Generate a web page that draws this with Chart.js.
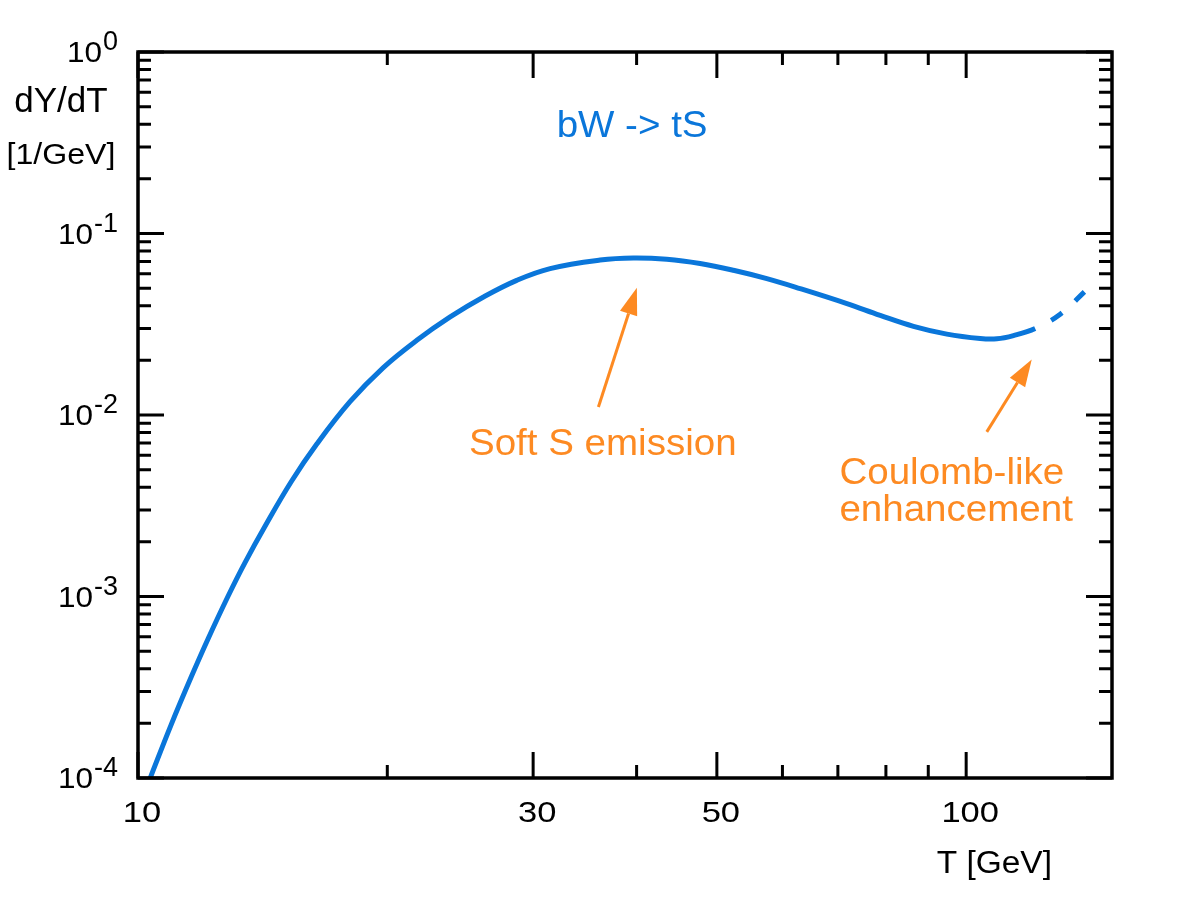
<!DOCTYPE html>
<html>
<head>
<meta charset="utf-8">
<script src="https://cdn.jsdelivr.net/npm/chart.js@4"></script>
<style>
  html, body { margin: 0; padding: 0; background: #ffffff; }
  #wrap { width: 1200px; height: 900px; }
</style>
</head>
<body>
<div id="wrap"><canvas id="SpectrumChart" width="1200" height="900"></canvas></div>
<script>
const SpectrumCanvas = document.getElementById("SpectrumChart");

// curve: T [GeV] and dY/dT [1/GeV]
const tValues = [10.22, 10.38, 10.97, 11.60, 12.16, 12.84, 13.46, 14.23, 15.31, 16.44,
                 18.03, 19.78, 21.71, 23.82, 26.13, 28.66, 31.45, 36.14, 39.65,
                 43.50, 47.72, 52.35, 57.45, 63.03, 71.78, 78.74, 86.38, 94.78, 103.97,
                 108.92, 114.05, 121.15, 129.88, 139.62];
const dYdTValues = [8.64e-5, 1.04e-4, 1.975e-4, 3.62e-4, 5.89e-4, 1.00e-3, 1.533e-3, 2.43e-3, 4.29e-3, 6.92e-3,
                    1.184e-2, 1.826e-2, 2.58e-2, 3.47e-2, 4.47e-2, 5.52e-2, 6.41e-2, 7.14e-2, 7.33e-2,
                    7.21e-2, 6.83e-2, 6.27e-2, 5.64e-2, 4.97e-2, 4.11e-2, 3.54e-2, 3.08e-2, 2.79e-2, 2.64e-2,
                    2.63e-2, 2.74e-2, 3.00e-2, 3.59e-2, 4.87e-2];
const dashedFromT = 121.15;   // curve is dashed from here on

// axis ticks
const xMajorTicks = [10, 30, 50, 100];
const xTickLabels = ["10", "30", "50", "100"];
const xMinorTicks = [20, 40, 60, 70, 80, 90];
const yMajorTicks = [1, 1e-1, 1e-2, 1e-3, 1e-4];
const yTickExponents = ["0", "-1", "-2", "-3", "-4"];
const yMinorMantissas = [2, 3, 4, 5, 6, 7, 8, 9];

const BLUE = '#0a76da';
const ORANGE = '#fd8a22';
const FONT = '"Liberation Sans", Arial, Helvetica, sans-serif';

// annotations (placed in data coordinates)
const annotations = [
    { text: "bW -> tS", x: 39.5, y: 0.385, color: BLUE, align: 'center' },
    { text: "Soft S emission", x: 25.1, y: 6.8e-3, color: ORANGE, align: 'left' },
    { text: "Coulomb-like", x: 70.3, y: 4.72e-3, color: ORANGE, align: 'left' },
    { text: "enhancement", x: 70.3, y: 2.95e-3, color: ORANGE, align: 'left' }
];
const arrows = [
    { from: [35.97, 0.01108], to: [40.03, 0.0502] },
    { from: [105.9, 0.00807], to: [120.0, 0.0202] }
];

function DrawText(ctx, str, x, y, font, align, stretch)
{
    ctx.save();
    ctx.translate(x, y);
    ctx.scale(stretch, 1);
    ctx.font = font;
    ctx.textAlign = align;
    ctx.textBaseline = 'middle';
    ctx.fillText(str, 0, 0);
    ctx.restore();
}

function DrawArrow(ctx, x0, y0, x1, y1)
{
    const ang = Math.atan2(y1 - y0, x1 - x0);
    const headLen = 27, headHalf = 9;
    const bx = x1 - headLen * Math.cos(ang);
    const by = y1 - headLen * Math.sin(ang);

    ctx.beginPath();
    ctx.moveTo(x0, y0);
    ctx.lineTo(bx, by);
    ctx.stroke();

    ctx.beginPath();
    ctx.moveTo(x1, y1);
    ctx.lineTo(bx + headHalf * Math.sin(ang), by - headHalf * Math.cos(ang));
    ctx.lineTo(bx - headHalf * Math.sin(ang), by + headHalf * Math.cos(ang));
    ctx.closePath();
    ctx.fill();
}

const FramePlugin = {
    id: 'frameAndTicks',
    afterDatasetsDraw(chart) {
        const ctx = chart.ctx;
        const a = chart.chartArea;
        const xs = chart.scales.x;
        const ys = chart.scales.y;

        ctx.save();
        ctx.strokeStyle = '#000';
        ctx.fillStyle = '#000';

        // ticks (inward, all four sides)
        ctx.lineWidth = 3;
        const majorLen = 26, minorLen = 13;
        const xTick = (v, len) => {
            const px = xs.getPixelForValue(v);
            ctx.beginPath();
            ctx.moveTo(px, a.bottom); ctx.lineTo(px, a.bottom - len);
            ctx.moveTo(px, a.top); ctx.lineTo(px, a.top + len);
            ctx.stroke();
        };
        const yTick = (v, len) => {
            const py = ys.getPixelForValue(v);
            ctx.beginPath();
            ctx.moveTo(a.left, py); ctx.lineTo(a.left + len, py);
            ctx.moveTo(a.right, py); ctx.lineTo(a.right - len, py);
            ctx.stroke();
        };
        xMajorTicks.forEach(v => xTick(v, majorLen));
        xMinorTicks.forEach(v => xTick(v, minorLen));
        yMajorTicks.forEach(v => yTick(v, majorLen));
        yMajorTicks.forEach(v => {
            if (v >= 1) return;
            yMinorMantissas.forEach(m => yTick(m * v, minorLen));
        });

        // frame
        ctx.lineWidth = 3.5;
        ctx.strokeRect(a.left, a.top, a.right - a.left, a.bottom - a.top);

        // x tick labels
        for (let i = 0; i < xMajorTicks.length; i++)
        {
            const px = xs.getPixelForValue(xMajorTicks[i]);
            DrawText(ctx, xTickLabels[i], px + 4, a.bottom + 36, '30px ' + FONT, 'center', 1.15);
        }

        // y tick labels 10^k
        for (let i = 0; i < yMajorTicks.length; i++)
        {
            const py = ys.getPixelForValue(yMajorTicks[i]);
            const right = a.left - 20;
            ctx.font = '27px ' + FONT;
            const expW = ctx.measureText(yTickExponents[i]).width;
            DrawText(ctx, yTickExponents[i], right - expW, py - 9, '27px ' + FONT, 'left', 1.0);
            DrawText(ctx, "10", right - expW - 1, py + 2, '30px ' + FONT, 'right', 1.05);
        }

        // axis titles
        DrawText(ctx, "T [GeV]", a.right - 60, a.bottom + 86, '31px ' + FONT, 'right', 1.08);
        DrawText(ctx, "dY/dT", 61, a.top + 50, '35px ' + FONT, 'center', 1.0);
        DrawText(ctx, "[1/GeV]", 61, a.top + 104, '30px ' + FONT, 'center', 1.07);

        // annotations
        annotations.forEach(t => {
            ctx.fillStyle = t.color;
            DrawText(ctx, t.text, xs.getPixelForValue(t.x), ys.getPixelForValue(t.y), '36px ' + FONT, t.align, 1.07);
        });

        ctx.strokeStyle = ORANGE;
        ctx.fillStyle = ORANGE;
        ctx.lineWidth = 3;
        arrows.forEach(ar => {
            DrawArrow(ctx,
                xs.getPixelForValue(ar.from[0]), ys.getPixelForValue(ar.from[1]),
                xs.getPixelForValue(ar.to[0]), ys.getPixelForValue(ar.to[1]));
        });

        ctx.restore();
    }
};

function GetCurvePoints()
{
    var points = [];
    for (let i = 0; i < tValues.length; i++)
    {
        points[i] = { x: tValues[i], y: dYdTValues[i] };
    }
    return points;
}

var SpectrumChartVar = new Chart(SpectrumCanvas, {
    type: 'line',
    data: {
        datasets: [{
            label: 'bW -> tS',
            data: GetCurvePoints(),
            borderColor: BLUE,
            borderWidth: 5,
            pointRadius: 0,
            fill: false,
            tension: 0.4,
            clip: 0,
            segment: {
                borderDash: ctx => ctx.p0.parsed.x >= dashedFromT ? [13, 18] : undefined,
                borderDashOffset: ctx => ctx.p0.parsed.x >= dashedFromT ? 13 : 0
            }
        }]
    },
    options: {
        responsive: false,
        animation: false,
        layout: {
            padding: { left: 138, right: 88, top: 52, bottom: 122 }
        },
        scales: {
            x: { type: 'logarithmic', min: 10, max: 150, display: false },
            y: { type: 'logarithmic', min: 1e-4, max: 1, display: false }
        },
        plugins: {
            legend: { display: false },
            tooltip: { enabled: false }
        }
    },
    plugins: [FramePlugin]
});
</script>
</body>
</html>
